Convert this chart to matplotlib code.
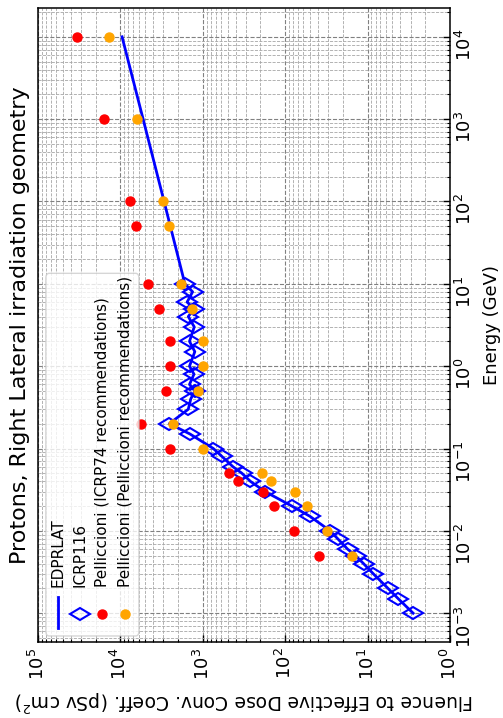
import numpy as np
import matplotlib
matplotlib.use("Agg")
import matplotlib.pyplot as plt
from matplotlib.markers import MarkerStyle
from matplotlib.transforms import Affine2D
from matplotlib.ticker import LogLocator, NullFormatter
from matplotlib.patches import FancyBboxPatch

# chart is drawn turned a quarter turn: energy runs up the right side,
# dose runs along the bottom (10^5 on the left, 10^0 on the right)

# ICRP116, energy in GeV, dose in pSv cm2
icrp_energy = [0.001, 0.0015, 0.002, 0.003, 0.004, 0.005, 0.006, 0.008, 0.01,
               0.015, 0.02, 0.03, 0.04, 0.05, 0.06, 0.08, 0.1, 0.15, 0.2,
               0.3, 0.4, 0.5, 0.6, 0.8, 1, 1.5, 2, 3, 4, 5, 6, 8, 10]
icrp_dose = [2.8, 4.25, 5.65, 8.5, 11.2, 14.0, 17.5, 23.0, 28.5,
             50, 83, 176, 265, 335, 430, 585, 745, 1430, 2550,
             1500, 1400, 1250, 1450, 1280, 1450, 1250, 1450, 1270, 1500,
             1280, 1550, 1330, 1650]

# EDPRLAT curve
edp_energy = [0.001, 0.0015, 0.002, 0.003, 0.004, 0.005, 0.006, 0.008, 0.01,
              0.015, 0.02, 0.03, 0.04, 0.05, 0.06, 0.08, 0.1, 0.15, 0.2,
              0.3, 0.4, 0.5, 0.6, 0.8, 1, 1.5, 2, 3, 4, 5, 6, 8, 10,
              100, 1000, 10000]
edp_dose = [2.8, 4.25, 5.65, 8.5, 11.2, 14.0, 17.5, 23.0, 28.5,
            50, 83, 176, 265, 335, 430, 585, 745, 1430, 2550,
            1500, 1400, 1250, 1450, 1280, 1450, 1250, 1450, 1270, 1500,
            1280, 1550, 1330, 1650,
            2950, 5300, 9550]

# Pelliccioni points
pel_energy = [0.005, 0.01, 0.02, 0.03, 0.04, 0.05, 0.1, 0.2, 0.5, 1, 2, 5,
              10, 50, 100, 1000, 10000]
pel_icrp74 = [39, 78, 136, 188, 377, 481, 2500, 5670, 2800, 2500, 2500, 3370,
              4580, 6470, 7640, 15700, 33900]
pel_pel = [15.6, 31, 54, 75, 150, 193, 1000, 2280, 1135, 1000, 1000, 1340,
           1840, 2550, 3070, 6300, 13700]

labels = ["EDPRLAT", "ICRP116", "Pelliccioni (ICRP74 recommendations)",
          "Pelliccioni (Pelliccioni recommendations)"]

W, H = 503, 718
fig = plt.figure(figsize=(W / 100, H / 100), dpi=100)
ax = fig.add_axes([38 / W, 1 - 642 / H, 412 / W, 634 / H])

# thin diamond turned with the chart
dmark = MarkerStyle("d", transform=Affine2D().rotate_deg(90))

ax.plot(edp_dose, edp_energy, color="blue", lw=2, zorder=3)
ax.plot(icrp_dose, icrp_energy, ls="none", marker=dmark, ms=10,
        mfc="none", mec="blue", mew=1.5, zorder=4)
ax.plot(pel_icrp74, pel_energy, ls="none", marker="o", ms=6.5,
        color="red", zorder=5)
ax.plot(pel_pel, pel_energy, ls="none", marker="o", ms=6.5,
        color="orange", zorder=6)

ax.set_xscale("log")
ax.set_yscale("log")
ax.set_xlim(1e5, 1e0)
ax.set_ylim(10 ** -3.35, 10 ** 4.35)

for axis in (ax.xaxis, ax.yaxis):
    axis.set_major_locator(LogLocator(base=10, numticks=20))
    axis.set_minor_locator(LogLocator(base=10, subs=np.arange(2, 10), numticks=20))
    axis.set_minor_formatter(NullFormatter())

ax.yaxis.tick_right()
ax.yaxis.set_label_position("right")
ax.tick_params(which="both", direction="in", labelsize=13)
ax.tick_params(which="major", length=5, width=1)
ax.tick_params(which="minor", length=2.5, width=0.8)
ax.tick_params(axis="x", labelrotation=90, pad=4)
ax.tick_params(axis="y", labelrotation=90)
for s in ax.spines.values():
    s.set_linewidth(1.1)

ax.grid(True, which="major", ls="--", color="0.5", lw=0.8)
ax.grid(True, which="minor", ls="--", color="0.65", lw=0.6)
ax.set_axisbelow(True)

ax.set_xlabel("Fluence to Effective Dose Conv. Coeff. (pSv cm$^2$)",
              fontsize=13.5, rotation=180)
ax.xaxis.set_label_coords(0.5, -0.073)
ax.set_ylabel("Energy (GeV)", fontsize=13, rotation=90, labelpad=6)

fig.text(20 / W, 1 - 325 / H, "Protons, Right Lateral irradiation geometry",
         rotation=90, ha="center", va="center", fontsize=16)

# legend, drawn by hand so it can be turned with the chart
box = FancyBboxPatch((0.019, 0.0095), 0.226, 0.572, transform=ax.transAxes,
                     boxstyle="round,pad=0,rounding_size=0.008",
                     facecolor="white", edgecolor="0.8", alpha=0.8, zorder=7)
ax.add_patch(box)
hx = [0.0485, 0.102, 0.155, 0.211]
hy = 0.0442
ax.plot([hx[0], hx[0]], [0.022, 0.071], color="blue", lw=2,
        transform=ax.transAxes, zorder=8)
ax.plot([hx[1]], [hy], marker=dmark, ms=10, mfc="none", mec="blue", mew=1.5,
        transform=ax.transAxes, zorder=8)
ax.plot([hx[2]], [hy], marker="o", ms=6.5, color="red",
        transform=ax.transAxes, zorder=8)
ax.plot([hx[3]], [hy], marker="o", ms=6.5, color="orange",
        transform=ax.transAxes, zorder=8)
for x, lab in zip(hx, labels):
    ax.text(x, 0.087, lab, rotation=90, ha="center", va="bottom",
            fontsize=11, transform=ax.transAxes, zorder=9)

fig.savefig("out.png", dpi=100)
